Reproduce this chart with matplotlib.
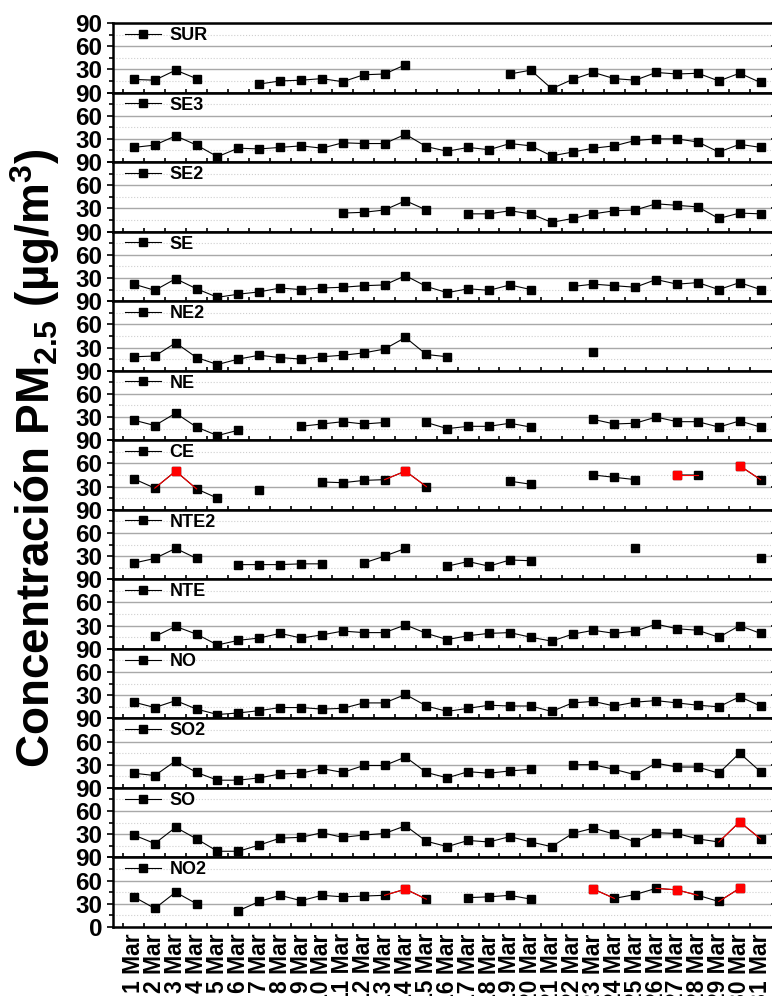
import numpy as np
import matplotlib.pyplot as plt

plt.rcParams['font.family'] = ['Liberation Sans', 'DejaVu Sans']
plt.rcParams['font.weight'] = 'bold'
plt.rcParams['mathtext.fontset'] = 'custom'
plt.rcParams['mathtext.rm'] = 'Liberation Sans:bold'
plt.rcParams['mathtext.bf'] = 'Liberation Sans:bold'

n = np.nan
days = np.arange(1, 32)
day_labels = ['%d Mar' % d for d in days]

# daily PM2.5 per station (NaN = no data)
SUR = [17, 16, 29, 18, n, n, 11, 15, 16, 18, 14, 23, 24, 36, n, n, n, n, 24, 29, 5, 17, 26, 18, 16, 26, 24, 25, 15, 25, 13]
SE3 = [19, 22, 34, 22, 7, 18, 17, 19, 21, 18, 25, 24, 24, 36, 20, 14, 19, 16, 24, 21, 8, 13, 18, 21, 28, 30, 30, 26, 13, 23, 19]
SE2 = [n, n, n, n, n, n, n, n, n, n, 24, 25, 28, 40, 28, n, 23, 23, 27, 23, 12, 17, 23, 27, 28, 36, 34, 32, 17, 24, 23]
SE = [22, 14, 29, 16, 5, 9, 12, 17, 15, 17, 18, 20, 21, 33, 19, 11, 16, 14, 21, 15, n, 19, 22, 20, 18, 28, 22, 24, 15, 24, 15]
NE2 = [18, 19, 36, 17, 8, 15, 20, 17, 15, 18, 20, 23, 28, 43, 21, 18, n, n, n, n, n, n, 24, n, n, n, n, n, n, n, n]
NE = [26, 19, 35, 17, 6, 13, n, n, 18, 21, 24, 21, 23, n, 23, 15, 18, 18, 22, 17, n, n, 27, 21, 22, 30, 24, 24, 17, 25, 17]
CE = [40, 28, 50, 27, 15, n, 26, n, n, 36, 35, 38, 39, 50, 30, n, n, n, 37, 33, n, n, 45, 42, 39, n, 45, 45, n, 57, 39]
NTE2 = [21, 27, 40, 27, n, 19, 19, 19, 20, 20, n, 21, 30, 40, n, 17, 23, 17, 25, 24, n, n, n, n, 40, n, n, n, n, n, 28]
NTE = [n, 16, 29, 19, 5, 11, 14, 20, 14, 18, 23, 21, 21, 31, 20, 12, 17, 20, 21, 15, 10, 19, 24, 20, 23, 32, 26, 24, 15, 30, 20]
NO = [21, 14, 23, 12, 5, 7, 10, 14, 14, 12, 13, 20, 20, 31, 16, 9, 13, 17, 16, 16, 9, 20, 22, 16, 21, 23, 20, 17, 15, 28, 16]
SO2 = [19, 16, 35, 20, 10, 10, 13, 18, 19, 25, 20, 29, 29, 40, 20, 13, 21, 19, 22, 24, n, 30, 30, 24, 17, 32, 27, 27, 19, 45, 21]
SO = [29, 18, 39, 24, 8, 8, 16, 25, 26, 32, 26, 29, 31, 41, 21, 14, 22, 20, 27, 20, 14, 31, 38, 30, 20, 32, 31, 24, 20, 46, 24]
NO2 = [39, 24, 45, 30, n, 21, 33, 41, 34, 41, 39, 40, 41, 49, 36, n, 38, 39, 41, 36, n, n, 49, 37, 42, 50, 48, 41, 33, 50, n]

stations = ['SUR', 'SE3', 'SE2', 'SE', 'NE2', 'NE', 'CE', 'NTE2', 'NTE', 'NO', 'SO2', 'SO', 'NO2']
series = [SUR, SE3, SE2, SE, NE2, NE, CE, NTE2, NTE, NO, SO2, SO, NO2]
# days drawn in red
red_days = {'CE': [3, 14, 27, 30], 'SO': [30], 'NO2': [14, 23, 27, 30]}

fig, axes = plt.subplots(13, 1, figsize=(7.72, 9.96), dpi=100, sharex=True)
fig.subplots_adjust(left=0.1464, right=0.9987, top=0.9769, bottom=0.0693, hspace=0)

for i, (ax, name, vals) in enumerate(zip(axes, stations, series)):
    y = np.array(vals, dtype=float)
    ax.plot(days, y, color='black', lw=0.8, marker='s', ms=5.5, label=name, zorder=3)
    for r in red_days.get(name, []):
        k = r - 1
        for a, b in [(k - 1, k), (k, k + 1)]:
            if a >= 0 and b < len(y) and np.isfinite(y[a]) and np.isfinite(y[b]):
                ax.plot(days[[a, b]], y[[a, b]], color='red', lw=0.8, zorder=4)
        ax.plot(days[k], y[k], 's', color='red', ms=5.5, zorder=5)

    ax.set_xlim(0, 31.5)
    ax.set_ylim(0, 90)
    ax.set_yticks([0, 30, 60, 90])
    ax.set_yticks([15, 45, 75], minor=True)
    if i == len(axes) - 1:
        ax.set_yticklabels(['0', '30', '60', '90'])
    else:
        ax.set_yticklabels(['', '30', '60', '90'])
    ax.grid(axis='y', which='major', color='#a8a8a8', lw=1)
    ax.grid(axis='y', which='minor', color='#cfcfcf', lw=0.8, ls=':')
    ax.set_axisbelow(True)

    ax.set_xticks(days)
    ax.set_xticks(np.arange(0.5, 31.5, 1), minor=True)
    ax.tick_params(axis='x', which='major', length=0, labelsize=16.5, rotation=90, pad=4.5)
    ax.tick_params(axis='x', which='minor', direction='in', length=3.2, width=1.2)
    ax.tick_params(axis='y', which='major', direction='out', length=4.5, width=1.2,
                   labelsize=17.5, pad=3, right=True)
    ax.tick_params(axis='y', which='minor', direction='out', length=3, width=1.2)
    for s in ['top', 'bottom', 'left']:
        ax.spines[s].set_linewidth(1.8)
    ax.spines['right'].set_visible(False)

    ax.legend(loc='upper left', bbox_to_anchor=(0.01, 1.02), frameon=False,
              prop={'weight': 'bold', 'size': 13}, handlelength=2.0,
              handletextpad=0.45, borderaxespad=0.1, borderpad=0.2)

axes[-1].set_xticklabels(day_labels)

fig.text(0.045, 0.54, r'Concentración PM$_{\mathbf{2.5}}$ (µg/m$^{\mathbf{3}}$)',
         rotation=90, ha='center', va='center', fontsize=33, fontweight='bold')

fig.savefig('out.png', dpi=100)
